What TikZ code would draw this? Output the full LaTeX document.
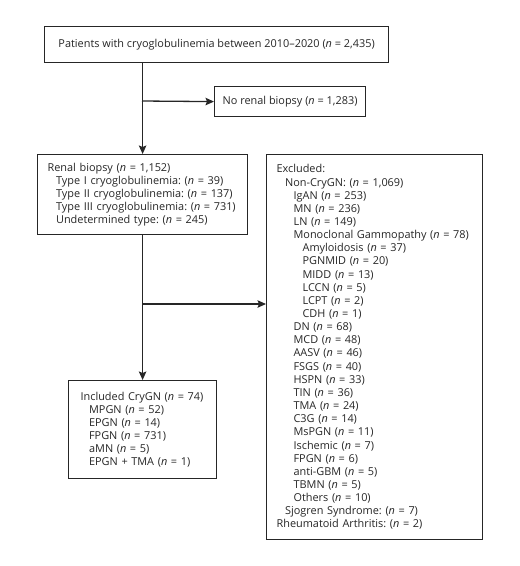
\documentclass[tikz,border=0pt]{standalone}
\usepackage{fontspec}
\setmainfont{Open Sans}
\usetikzlibrary{arrows.meta}
\frenchspacing
\newcommand{\nn}{\textit{n}}
\newcommand{\ia}{\hspace*{8.5pt}}
\newcommand{\ib}{\hspace*{17pt}}
\newcommand{\ic}{\hspace*{26pt}}
\begin{document}
\begin{tikzpicture}[x=1pt,y=-1pt,
  box/.style={draw=black!85, line width=1.2pt, rectangle, anchor=north west, inner ysep=0pt,
     font=\fontsize{10.9}{13.15}\selectfont\frenchspacing, text=black!85},
  lbox/.style={box, align=left, inner xsep=10pt},
  arr/.style={draw=black!85, line width=1.3pt, -{Stealth[length=8.5pt,width=7.5pt,inset=1.5pt]}},
  ln/.style={draw=black!85, line width=1.3pt}]
\useasboundingbox (0,0) rectangle (520,566);
\node[box, minimum width=344pt, minimum height=36pt] (top) at (44,26)
  {Patients with cryoglobulinemia between 2010--2020 (\nn{} = 2,435)};
\node[box, minimum width=151pt, minimum height=30pt] (norenal) at (214,86)
  {No renal biopsy (\nn{} = 1,283)};
\node[lbox, minimum width=210pt, minimum height=80pt, text width=190pt] (renal) at (37,154)
  {Renal biopsy (\nn{} = 1,152)\\
   \ia Type I cryoglobulinemia: (\nn{} = 39)\\
   \ia Type II cryoglobulinemia: (\nn{} = 137)\\
   \ia Type III cryoglobulinemia: (\nn{} = 731)\\
   \ia Undetermined type: (\nn{} = 245)};
\node[lbox, minimum width=216pt, minimum height=385pt, text width=196pt] (excl) at (266,154)
  {Excluded:\\
   \ia Non-CryGN: (\nn{} = 1,069)\\
   \ib IgAN (\nn{} = 253)\\
   \ib MN (\nn{} = 236)\\
   \ib LN (\nn{} = 149)\\
   \ib Monoclonal Gammopathy (\nn{} = 78)\\
   \ic Amyloidosis (\nn{} = 37)\\
   \ic PGNMID (\nn{} = 20)\\
   \ic MIDD (\nn{} = 13)\\
   \ic LCCN (\nn{} = 5)\\
   \ic LCPT (\nn{} = 2)\\
   \ic CDH (\nn{} = 1)\\
   \ib DN (\nn{} = 68)\\
   \ib MCD (\nn{} = 48)\\
   \ib AASV (\nn{} = 46)\\
   \ib FSGS (\nn{} = 40)\\
   \ib HSPN (\nn{} = 33)\\
   \ib TIN (\nn{} = 36)\\
   \ib TMA (\nn{} = 24)\\
   \ib C3G (\nn{} = 14)\\
   \ib MsPGN (\nn{} = 11)\\
   \ib Ischemic (\nn{} = 7)\\
   \ib FPGN (\nn{} = 6)\\
   \ib anti-GBM (\nn{} = 5)\\
   \ib TBMN (\nn{} = 5)\\
   \ib Others (\nn{} = 10)\\
   \ia Sjogren Syndrome: (\nn{} = 7)\\
   Rheumatoid Arthritis: (\nn{} = 2)};
\node[lbox, inner xsep=12pt, minimum width=148pt, minimum height=98pt, text width=124pt] (incl) at (68,380)
  {Included CryGN (\nn{} = 74)\\
   \ia MPGN (\nn{} = 52)\\
   \ia EPGN (\nn{} = 14)\\
   \ia FPGN (\nn{} = 731)\\
   \ia aMN (\nn{} = 5)\\
   \ia EPGN + TMA (\nn{} = 1)};
\coordinate (b1) at (142,101);
\coordinate (b2) at (142,304);
\draw[arr] (top.south -| renal.north) -- (renal.north);
\draw[arr] (b1) -- (norenal.west);
\draw[arr] (renal.south) -- (incl.north);
\draw[arr] (b2) -- (b2 -| excl.west);
\end{tikzpicture}
\end{document}
